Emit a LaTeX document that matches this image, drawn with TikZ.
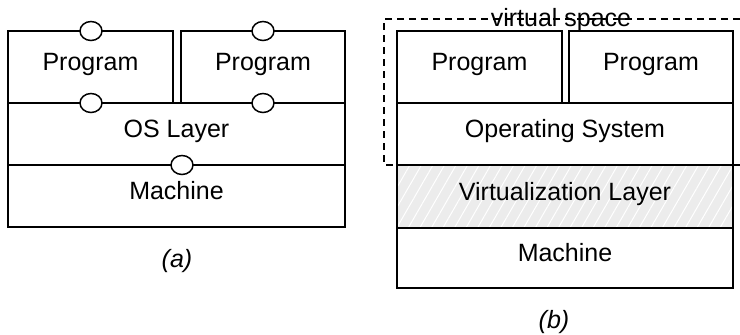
\documentclass[tikz,border=0pt]{standalone}
\usepackage{fontspec}
\setmainfont{Liberation Sans}
\usetikzlibrary{patterns.meta,shapes.geometric}
\begin{document}
\begin{tikzpicture}[x=1pt,y=-1pt,
  layer/.style={draw,line width=1.5pt,inner sep=0pt,font=\fontsize{25}{28}\selectfont,text height=0.72em,text depth=0pt},
  port/.style={draw,line width=1.5pt,fill=white,ellipse,minimum width=22pt,minimum height=19pt,inner sep=0pt},
  caption/.style={font=\fontsize{25}{28}\selectfont\itshape},
  vspace/.style={draw,dashed,line width=1.3pt,dash pattern=on 7pt off 5pt}]
\useasboundingbox (0,0) rectangle (740,335);
% (a)
\node[layer,minimum width=165pt,minimum height=72pt] (pa1) at (90.5,67) {Program};
\node[layer,minimum width=164pt,minimum height=72pt] (pa2) at (263,67) {Program};
\node[layer,minimum width=337pt,minimum height=62pt] (osa) at (176.5,134) {OS Layer};
\node[layer,minimum width=337pt,minimum height=62pt] (ma) at (176.5,196) {Machine};
\node[port] (c1) at (91,31) {};
\node[port] (c2) at (263,31) {};
\node[port] (c3) at (91,103) {};
\node[port] (c4) at (263,103) {};
\node[port] (c5) at (182,165) {};
\node[caption] (capa) at (177,261) {(a)};
% (b)
\node[layer,minimum width=165pt,minimum height=72pt] (pb1) at (479.5,67) {Program};
\node[layer,minimum width=164pt,minimum height=72pt] (pb2) at (651,67) {Program};
\node[layer,minimum width=336pt,minimum height=62pt] (osb) at (565,134) {Operating System};
\node[layer,minimum width=336pt,minimum height=63pt,fill=gray!15,
  postaction={pattern={Lines[angle=60,distance=10pt,line width=1pt]},pattern color=white}] (vb) at (565,196.5) {};
\node[layer,minimum width=336pt,minimum height=63pt] (vbt) at (565,196.5) {Virtualization Layer};
\node[layer,minimum width=336pt,minimum height=60pt] (mb) at (565,258) {Machine};
\coordinate (d1) at (740,19);
\coordinate (d2) at (384,19);
\coordinate (d3) at (384,165);
\coordinate (d4) at (740,165);
\draw[vspace] (d1) -- (d2) -- (d3) -- (d4);
\node[anchor=base,inner sep=0pt,font=\fontsize{25}{28}\selectfont] (vs) at (561,26) {virtual space};
\node[caption] (capb) at (554,322) {(b)};
\end{tikzpicture}
\end{document}
